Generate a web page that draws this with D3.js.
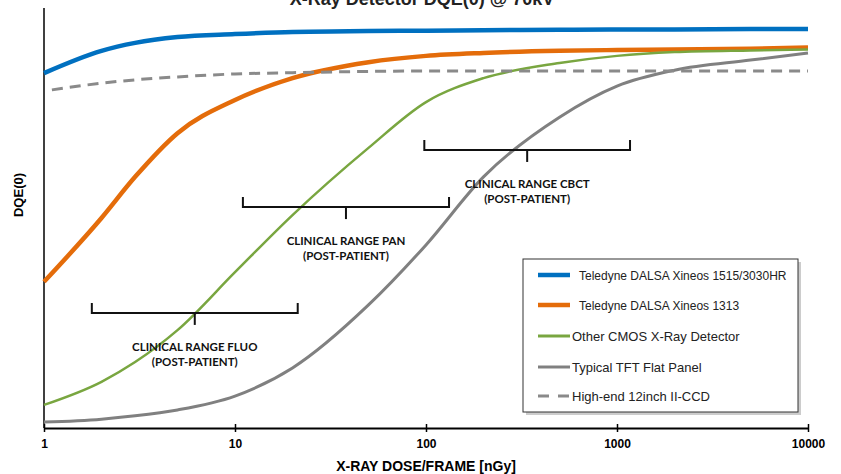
<!DOCTYPE html>
<html>
<head>
<meta charset="utf-8">
<script src="https://cdn.jsdelivr.net/npm/d3@7"></script>
<style>
    body { margin: 0; background: #fff; }
    svg { display: block; font-family: "Liberation Sans", Arial, sans-serif; }
</style>
</head>
<body>
<svg id="chart" width="841" height="474"></svg>
<script>
// dose per frame [nGy] and DQE(0)
const doses = [1, 2, 3, 5, 10, 20, 50, 100, 200, 500, 1000, 2000, 5000, 10000];
const xineos1515 = [0.845, 0.898, 0.917, 0.931, 0.938, 0.943, 0.945, 0.946, 0.947, 0.948, 0.949, 0.949, 0.950, 0.950];
const xineos1313 = [0.348, 0.500, 0.598, 0.702, 0.781, 0.833, 0.871, 0.886, 0.893, 0.898, 0.900, 0.901, 0.903, 0.906];
const otherCmos  = [0.055, 0.110, 0.157, 0.233, 0.371, 0.507, 0.667, 0.776, 0.833, 0.869, 0.886, 0.895, 0.899, 0.901];
const tftPanel   = [0.014, 0.021, 0.029, 0.043, 0.076, 0.143, 0.293, 0.436, 0.598, 0.740, 0.814, 0.852, 0.876, 0.893];
const ccdDoses   = [1.1, 2, 3, 5, 10, 20, 50, 100, 1000, 10000];
const iiCcd      = [0.805, 0.821, 0.829, 0.836, 0.843, 0.846, 0.849, 0.850, 0.850, 0.850];

const xTicks = [1, 10, 100, 1000, 10000];

// clinical ranges: dose from/to, DQE level of the bracket
const rangeNames = ['CLINICAL RANGE FLUO', 'CLINICAL RANGE PAN', 'CLINICAL RANGE CBCT'];
const rangeLo = [1.78, 11, 98];
const rangeHi = [21.3, 132, 1170];
const rangeLevel = [0.274, 0.526, 0.662];

const seriesNames = [
    'Teledyne DALSA Xineos 1515/3030HR',
    'Teledyne DALSA Xineos 1313',
    'Other CMOS X-Ray Detector',
    'Typical TFT Flat Panel',
    'High-end 12inch II-CCD'
];

const svg = d3.select('#chart');
const x = d3.scaleLog().domain([1, 10000]).range([44, 808]);
const y = d3.scaleLinear().domain([0, 1]).range([428, 8]);
const midX = (x.range()[0] + x.range()[1]) / 2;

const series = [
    {name: seriesNames[0], xs: doses, ys: xineos1515, color: '#0070c0', width: 4.5, dash: null},
    {name: seriesNames[1], xs: doses, ys: xineos1313, color: '#e46c0a', width: 4.5, dash: null},
    {name: seriesNames[2], xs: doses, ys: otherCmos, color: '#79a640', width: 2.5, dash: null},
    {name: seriesNames[3], xs: doses, ys: tftPanel, color: '#808080', width: 3, dash: null},
    {name: seriesNames[4], xs: ccdDoses, ys: iiCcd, color: '#8a8a8a', width: 3, dash: '11 7'}
];

// title, cut by the top edge like the original
svg.append('text')
    .attr('x', midX - 4)
    .attr('y', 5)
    .attr('text-anchor', 'middle')
    .attr('font-size', 18)
    .attr('font-weight', 'bold')
    .attr('fill', '#222')
    .text('X-Ray Detector DQE(0) @ 70kV');

// y axis, bare line
svg.append('line')
    .attr('x1', x(1)).attr('x2', x(1))
    .attr('y1', y(1)).attr('y2', y(0))
    .attr('stroke', '#000')
    .attr('stroke-width', 1.5);

svg.append('text')
    .attr('transform', `translate(23,${195}) rotate(-90)`)
    .attr('text-anchor', 'middle')
    .attr('font-size', 13)
    .attr('font-weight', 'bold')
    .text('DQE(0)');

// x axis
const xAxis = svg.append('g')
    .attr('transform', `translate(0,${y(0)})`)
    .call(d3.axisBottom(x)
        .tickValues(xTicks)
        .tickFormat(d3.format('d'))
        .tickSizeOuter(0)
        .tickSizeInner(4));

xAxis.select('.domain')
    .attr('stroke', '#000')
    .attr('stroke-width', 2);

xAxis.selectAll('.tick line')
    .attr('y1', -4)
    .attr('y2', 4)
    .attr('stroke', '#000')
    .attr('stroke-width', 1.5);

xAxis.selectAll('.tick text')
    .attr('y', 11)
    .attr('fill', '#000')
    .attr('font-size', 12)
    .attr('font-weight', 'bold')
    .attr('font-family', '"Liberation Sans", Arial, sans-serif');

svg.append('text')
    .attr('x', midX)
    .attr('y', 471)
    .attr('text-anchor', 'middle')
    .attr('font-size', 14)
    .attr('font-weight', 'bold')
    .text('X-RAY DOSE/FRAME  [nGy]');

// curves
const line = d3.line()
    .x(d => x(d[0]))
    .y(d => y(d[1]))
    .curve(d3.curveMonotoneX);

svg.append('g')
    .selectAll('path')
    .data(series)
    .enter()
    .append('path')
    .attr('d', s => line(s.xs.map((v, i) => [v, s.ys[i]])))
    .attr('fill', 'none')
    .attr('stroke', s => s.color)
    .attr('stroke-width', s => s.width)
    .attr('stroke-dasharray', s => s.dash)
    .attr('stroke-linejoin', 'round');

// clinical range brackets
const ranges = rangeNames.map((name, i) => ({name, lo: rangeLo[i], hi: rangeHi[i], level: rangeLevel[i]}));

const br = svg.append('g')
    .selectAll('.range')
    .data(ranges)
    .enter()
    .append('g')
    .attr('class', 'range');

br.append('path')
    .attr('d', d => {
        const x0 = x(d.lo), x1 = x(d.hi), yy = y(d.level);
        return `M${x0},${yy - 10}V${yy}H${x1}V${yy - 10}`;
    })
    .attr('fill', 'none')
    .attr('stroke', '#111')
    .attr('stroke-width', 2);

br.append('line')
    .attr('x1', d => x(Math.sqrt(d.lo * d.hi)))
    .attr('x2', d => x(Math.sqrt(d.lo * d.hi)))
    .attr('y1', d => y(d.level))
    .attr('y2', d => y(d.level) + 12)
    .attr('stroke', '#111')
    .attr('stroke-width', 2);

br.append('text')
    .attr('text-anchor', 'middle')
    .attr('font-family', 'Lato, "Open Sans", sans-serif')
    .attr('font-size', 11.5)
    .attr('font-weight', 'bold')
    .attr('fill', '#111')
    .selectAll('tspan')
    .data(d => [d.name, '(POST-PATIENT)'].map(t => ({t, d})))
    .enter()
    .append('tspan')
    .attr('x', o => x(Math.sqrt(o.d.lo * o.d.hi)))
    .attr('y', (o, i) => y(o.d.level) + 38 + i * 15)
    .text(o => o.t);

// legend
const legend = svg.append('g').attr('transform', 'translate(523,259)');

legend.append('rect')
    .attr('x', 3).attr('y', 3)
    .attr('width', 275).attr('height', 153)
    .attr('fill', '#999')
    .attr('opacity', 0.5);

legend.append('rect')
    .attr('width', 275).attr('height', 153)
    .attr('fill', '#fff')
    .attr('stroke', '#333')
    .attr('stroke-width', 1);

const rowY = [16, 46, 77, 108, 137];

const items = legend.selectAll('.item')
    .data(series)
    .enter()
    .append('g')
    .attr('class', 'item')
    .attr('transform', (d, i) => `translate(0,${rowY[i]})`);

items.append('line')
    .attr('x1', 15).attr('x2', 47)
    .attr('stroke', d => d.color)
    .attr('stroke-width', (d, i) => i < 2 ? 4.5 : 3)
    .attr('stroke-dasharray', d => d.dash ? '11 9' : null);

items.append('text')
    .attr('x', (d, i) => i < 2 ? 56 : 49)
    .attr('y', 4.5)
    .attr('font-size', (d, i) => i < 2 ? 12 : 13)
    .attr('fill', '#222')
    .text(d => d.name);
</script>
</body>
</html>
